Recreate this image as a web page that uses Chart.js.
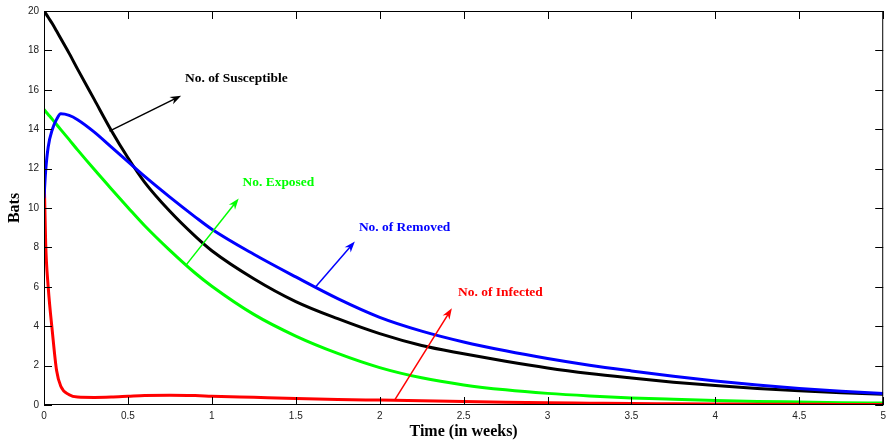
<!DOCTYPE html>
<html>
<head>
<meta charset="utf-8">
<title>Bats</title>
<script src="https://cdn.jsdelivr.net/npm/chart.js@4/dist/chart.umd.min.js"></script>
<style>
	body { margin: 0; background: #fff; }
	canvas { display: block; }
</style>
</head>
<body>
<canvas id="graficoBats" width="891" height="443"></canvas>
<script>
// tempo (semanas) comum a todas as curvas
var tempo = [0, 0.01, 0.025, 0.05, 0.075, 0.1, 0.15, 0.2, 0.3, 0.4, 0.5, 0.6, 0.75, 0.9, 1.0,
	1.25, 1.5, 1.75, 2.0, 2.25, 2.5, 2.75, 3.0, 3.25, 3.5, 3.75, 4.0, 4.25, 4.5, 4.75, 5.0];

var suscetiveis = [20, 19.88, 19.68, 19.35, 18.98, 18.6, 17.85, 17.05, 15.5, 13.95, 12.55, 11.3, 9.83, 8.57, 7.83,
	6.41, 5.25, 4.38, 3.62, 3.02, 2.6, 2.22, 1.88, 1.6, 1.37, 1.16, 0.99, 0.84, 0.72, 0.62, 0.54];

var expostos = [15.0, 14.9, 14.75, 14.5, 14.24, 13.98, 13.47, 12.95, 11.95, 10.98, 10.03, 9.1, 7.85, 6.7, 6.03,
	4.6, 3.5, 2.62, 1.9, 1.38, 1.02, 0.77, 0.59, 0.46, 0.36, 0.29, 0.23, 0.18, 0.15, 0.12, 0.1];

var infectados = [12.0, 8.2, 6.0, 3.7, 1.75, 0.95, 0.52, 0.4, 0.38, 0.4, 0.44, 0.48, 0.5, 0.48, 0.45,
	0.39, 0.33, 0.28, 0.25, 0.22, 0.18, 0.14, 0.11, 0.09, 0.07, 0.06, 0.05, 0.04, 0.04, 0.03, 0.03];

var removidos = [10.5, 11.9, 13.1, 14.0, 14.5, 14.78, 14.7, 14.48, 13.85, 13.1, 12.35, 11.6, 10.55, 9.55, 8.92,
	7.65, 6.5, 5.4, 4.45, 3.75, 3.2, 2.75, 2.36, 2.02, 1.73, 1.46, 1.22, 1.01, 0.84, 0.7, 0.58];

var ticksX = [0, 0.5, 1, 1.5, 2, 2.5, 3, 3.5, 4, 4.5, 5];
var ticksY = [0, 2, 4, 6, 8, 10, 12, 14, 16, 18, 20];

// anotacoes: texto, inicio e ponta da seta (em unidades dos eixos)
var rotulos = ['No. of Susceptible', 'No. Exposed', 'No. of Removed', 'No. of Infected'];
var setaInicio = [[0.39, 13.9], [0.846, 7.1], [1.615, 5.97], [2.089, 0.25]];
var setaPonta = [[0.817, 15.7], [1.16, 10.48], [1.852, 8.3], [2.43, 4.91]];
var rotuloPos = [[0.84, 16.55], [1.183, 11.25], [1.876, 9.01], [2.467, 5.67]];
var cores = ['#000000', '#00ff00', '#0000ff', '#ff0000'];

function pontos(valores) {
	return tempo.map(function(t, i) {
		return { x: t, y: valores[i] };
	});
}

var molduraPlugin = {
	id: 'moldura',
	afterDraw: function(chart) {
		var ctx = chart.ctx;
		var a = chart.chartArea;
		var sx = chart.scales.x;
		var sy = chart.scales.y;
		var tam = 8;

		ctx.save();
		ctx.strokeStyle = '#000';
		ctx.lineWidth = 1;
		ctx.strokeRect(a.left + 0.5, a.top + 0.5, a.right - a.left - 1, a.bottom - a.top - 1);

		ctx.beginPath();
		ticksX.forEach(function(v) {
			var px = Math.round(sx.getPixelForValue(v)) + 0.5;
			ctx.moveTo(px, a.bottom);
			ctx.lineTo(px, a.bottom - tam);
			ctx.moveTo(px, a.top);
			ctx.lineTo(px, a.top + tam);
		});
		ticksY.forEach(function(v) {
			var py = Math.round(sy.getPixelForValue(v)) + 0.5;
			ctx.moveTo(a.left, py);
			ctx.lineTo(a.left + tam, py);
			ctx.moveTo(a.right, py);
			ctx.lineTo(a.right - tam, py);
		});
		ctx.stroke();

		rotulos.forEach(function(texto, i) {
			var x0 = sx.getPixelForValue(setaInicio[i][0]);
			var y0 = sy.getPixelForValue(setaInicio[i][1]);
			var x1 = sx.getPixelForValue(setaPonta[i][0]);
			var y1 = sy.getPixelForValue(setaPonta[i][1]);
			var ang = Math.atan2(y1 - y0, x1 - x0);
			var comp = 11, larg = 4;

			ctx.strokeStyle = cores[i];
			ctx.fillStyle = cores[i];
			ctx.lineWidth = 1.5;
			ctx.beginPath();
			ctx.moveTo(x0, y0);
			ctx.lineTo(x1 - Math.cos(ang) * comp * 0.6, y1 - Math.sin(ang) * comp * 0.6);
			ctx.stroke();

			ctx.beginPath();
			ctx.moveTo(x1, y1);
			ctx.lineTo(x1 - Math.cos(ang) * comp - Math.sin(ang) * larg, y1 - Math.sin(ang) * comp + Math.cos(ang) * larg);
			ctx.lineTo(x1 - Math.cos(ang) * comp * 0.7, y1 - Math.sin(ang) * comp * 0.7);
			ctx.lineTo(x1 - Math.cos(ang) * comp + Math.sin(ang) * larg, y1 - Math.sin(ang) * comp - Math.cos(ang) * larg);
			ctx.closePath();
			ctx.fill();

			// texto um pouco esticado na horizontal como no original
			ctx.save();
			ctx.translate(sx.getPixelForValue(rotuloPos[i][0]), sy.getPixelForValue(rotuloPos[i][1]));
			ctx.scale(1.12, 1);
			ctx.font = 'bold 12px "Liberation Serif", "Times New Roman", serif';
			ctx.textAlign = 'left';
			ctx.textBaseline = 'middle';
			ctx.fillText(texto, 0, 0);
			ctx.restore();
		});
		ctx.restore();
	}
};

var ctx = document.getElementById('graficoBats').getContext('2d');

var graficoBats = new Chart(ctx, {
	type: 'line',
	data: {
		datasets: [{
			label: 'Removed',
			data: pontos(removidos),
			borderColor: '#0000ff',
			order: 1
		}, {
			label: 'Infected',
			data: pontos(infectados),
			borderColor: '#ff0000',
			order: 2
		}, {
			label: 'Exposed',
			data: pontos(expostos),
			borderColor: '#00ff00',
			order: 3
		}, {
			label: 'Susceptible',
			data: pontos(suscetiveis),
			borderColor: '#000000',
			order: 4
		}]
	},
	options: {
		responsive: false,
		animation: false,
		devicePixelRatio: 1,
		layout: { padding: { top: 10, right: 2, left: 0, bottom: 0 } },
		elements: {
			point: { radius: 0 },
			line: { borderWidth: 3, fill: false, cubicInterpolationMode: 'monotone' }
		},
		plugins: {
			legend: { display: false },
			tooltip: { enabled: false }
		},
		scales: {
			x: {
				type: 'linear',
				min: 0,
				max: 5,
				afterFit: function(s) { s.height = 38; },
				afterBuildTicks: function(s) { s.ticks = ticksX.map(function(v) { return { value: v }; }); },
				grid: { display: false, drawTicks: false },
				border: { display: false },
				ticks: {
					padding: 5,
					color: '#222',
					font: { family: '"Liberation Sans", Arial, sans-serif', size: 10 },
					callback: function(v) { return String(v); }
				},
				title: {
					display: true,
					text: 'Time (in weeks)',
					color: '#000',
					padding: { top: 0, bottom: 2 },
					font: { family: '"Liberation Serif", "Times New Roman", serif', size: 16, weight: 'bold' }
				}
			},
			y: {
				type: 'linear',
				min: 0,
				max: 20,
				afterFit: function(s) { s.width = 44; },
				afterBuildTicks: function(s) { s.ticks = ticksY.map(function(v) { return { value: v }; }); },
				grid: { display: false, drawTicks: false },
				border: { display: false },
				ticks: {
					padding: 5,
					color: '#222',
					font: { family: '"Liberation Sans", Arial, sans-serif', size: 10 },
					callback: function(v) { return String(v); }
				},
				title: {
					display: true,
					text: 'Bats',
					color: '#000',
					padding: { top: 5, bottom: 0 },
					font: { family: '"Liberation Serif", "Times New Roman", serif', size: 16, weight: 'bold' }
				}
			}
		}
	},
	plugins: [molduraPlugin]
});
</script>
</body>
</html>
